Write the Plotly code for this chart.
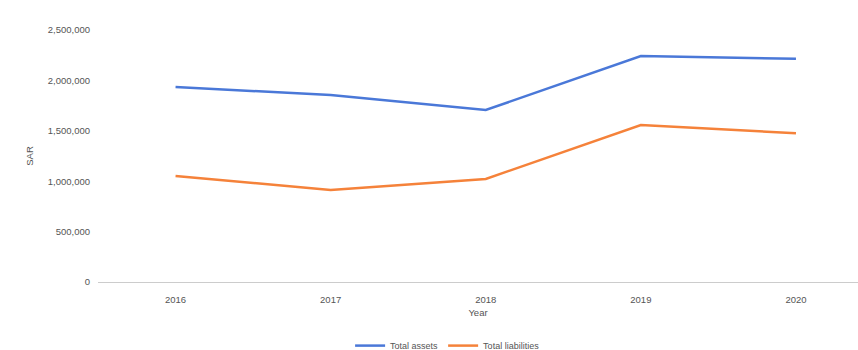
import plotly.graph_objects as go

years = ["2016", "2017", "2018", "2019", "2020"]
total_assets = [1935000, 1855000, 1706000, 2242000, 2215000]
total_liabilities = [1052000, 913000, 1022000, 1558000, 1475000]
y_ticks = [0, 500000, 1000000, 1500000, 2000000, 2500000]

fig = go.Figure()
fig.add_trace(go.Scatter(x=years, y=total_assets, mode="lines", name="Total assets",
                         line=dict(color="#4a78d8", width=2.5)))
fig.add_trace(go.Scatter(x=years, y=total_liabilities, mode="lines", name="Total liabilities",
                         line=dict(color="#f5823a", width=2.5)))

fig.update_layout(
    width=858, height=350,
    margin=dict(l=98, r=0, t=30, b=68, autoexpand=False),
    paper_bgcolor="white", plot_bgcolor="white",
    font=dict(family="Arial, Liberation Sans", size=9, color="#555555"),
    showlegend=True,
    legend=dict(orientation="h", x=0.46, xanchor="center", yref="container",
                y=0.054, yanchor="top", font=dict(size=9, color="#555555"),
                itemwidth=30),
    xaxis=dict(type="category", range=[-0.5, 4.4], showgrid=False, zeroline=False,
               showline=False, ticks="", ticklabelstandoff=10,
               tickfont=dict(size=9.5, color="#555555"),
               title=dict(text="Year", standoff=5, font=dict(size=9.5, color="#555555"))),
    yaxis=dict(range=[0, 2500000], tickvals=y_ticks, tickformat=",",
               showgrid=False, zeroline=True, zerolinecolor="#cccccc", zerolinewidth=1,
               showline=False, ticks="", ticklabelstandoff=7,
               tickfont=dict(size=9.5, color="#555555"),
               title=dict(text="SAR", standoff=12, font=dict(size=9.5, color="#555555"))),
)

fig.write_html("out.html")
